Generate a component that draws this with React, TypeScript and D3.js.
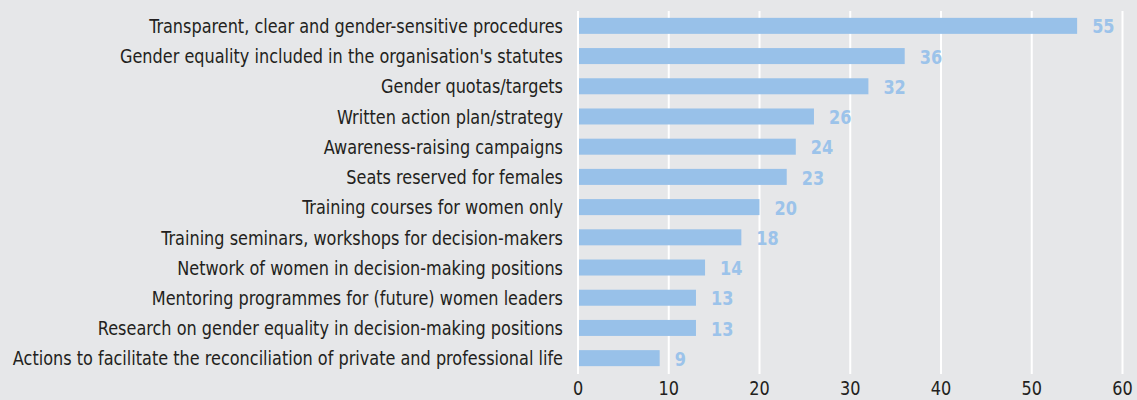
import React from "react";
import * as d3 from "d3";

const categories = [
  "Transparent, clear and gender-sensitive procedures",
  "Gender equality included in the organisation's statutes",
  "Gender quotas/targets",
  "Written action plan/strategy",
  "Awareness-raising campaigns",
  "Seats reserved for females",
  "Training courses for women only",
  "Training seminars, workshops for decision-makers",
  "Network of women in decision-making positions",
  "Mentoring programmes for (future) women leaders",
  "Research on gender equality in decision-making positions",
  "Actions to facilitate the reconciliation of private and professional life",
];
const values = [55, 36, 32, 26, 24, 23, 20, 18, 14, 13, 13, 9];
const ticks = [0, 10, 20, 30, 40, 50, 60];

const W = 1137;
const H = 400;
const FONT = "'DejaVu Sans Condensed', 'Liberation Sans Narrow', sans-serif";
const SX = 0.895;

export default function App() {
  const x = d3.scaleLinear().domain([0, 60]).range([578, 1122.5]);
  const y = d3
    .scaleBand<string>()
    .domain(categories)
    .range([10, 374])
    .paddingInner(0.47)
    .paddingOuter(0.26);
  return (
    <svg
      width={W}
      height={H}
      style={{ position: "absolute", left: 0, top: 0, background: "#e6e7e9" }}
    >
      <rect x={0} y={0} width={W} height={H} fill="#e6e7e9" />
      {ticks.map((t) => (
        <line
          key={t}
          x1={x(t)}
          x2={x(t)}
          y1={11}
          y2={374}
          stroke="#ffffff"
          strokeWidth={2}
        />
      ))}
      {categories.map((c, i) => {
        const cy = (y(c) as number) + y.bandwidth() / 2;
        return (
          <g key={c}>
            <rect
              x={x(0) + 1}
              y={y(c)}
              width={x(values[i]) - x(0) - 1}
              height={y.bandwidth()}
              fill="#98c1e9"
            />
            <g transform={`translate(563,${cy}) scale(${SX},1)`}>
              <text
                dy="0.36em"
                textAnchor="end"
                fontFamily={FONT}
                fontSize={20}
                fill="#231f20"
              >
                {c}
              </text>
            </g>
            <g transform={`translate(${x(values[i]) + 15},${cy}) scale(${SX},1)`}>
              <text
                dy="0.38em"
                textAnchor="start"
                fontFamily={FONT}
                fontWeight="bold"
                fontSize={20}
                fill="#9cc3ea"
              >
                {values[i]}
              </text>
            </g>
          </g>
        );
      })}
      {ticks.map((t) => (
        <g key={"l" + t} transform={`translate(${x(t)},395) scale(${SX},1)`}>
          <text
            textAnchor="middle"
            fontFamily={FONT}
            fontSize={20}
            fill="#231f20"
          >
            {t}
          </text>
        </g>
      ))}
    </svg>
  );
}
